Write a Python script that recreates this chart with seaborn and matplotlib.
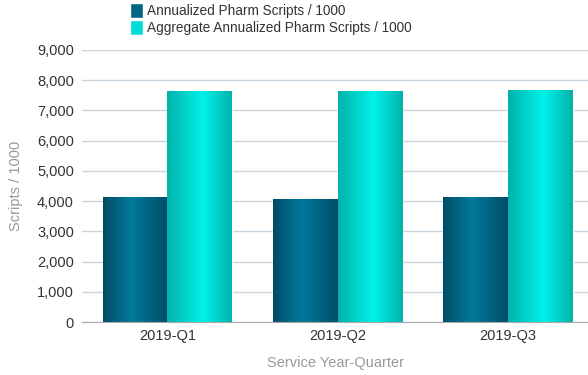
import numpy as np
import pandas as pd
import matplotlib
matplotlib.use("Agg")
import matplotlib.pyplot as plt
from matplotlib.colors import LinearSegmentedColormap
from matplotlib.patches import Patch
import seaborn as sns

quarters = ["2019-Q1", "2019-Q2", "2019-Q3"]
annualized = [4135, 4070, 4135]
aggregate = [7645, 7645, 7680]
series_names = ["Annualized Pharm Scripts / 1000",
                "Aggregate Annualized Pharm Scripts / 1000"]

df = pd.DataFrame({
    "quarter": quarters * 2,
    "value": annualized + aggregate,
    "series": [series_names[0]] * 3 + [series_names[1]] * 3,
})

sns.set_style("white")
plt.rcParams["font.family"] = ["Liberation Sans", "DejaVu Sans"]

fig = plt.figure(figsize=(5.88, 3.75), dpi=100)
ax = fig.add_axes([0.14, 0.141, 0.86, 0.726])

solid = ["#00627f", "#00d6d0"]
sns.barplot(data=df, x="quarter", y="value", hue="series", order=quarters,
            hue_order=series_names, palette=solid, width=0.76, gap=0,
            saturation=1, ax=ax, legend=False)

# gradient shading on the bars (cylinder look)
grad_dark = LinearSegmentedColormap.from_list(
    "d", [(0, "#004c66"), (0.45, "#007a9c"), (1, "#004c66")])
grad_light = LinearSegmentedColormap.from_list(
    "l", [(0, "#00b3ab"), (0.55, "#00f2ea"), (1, "#00b3ab")])
xs = np.linspace(0, 1, 128).reshape(1, -1)
for i, p in enumerate(ax.patches):
    cmap = grad_dark if i < len(quarters) else grad_light
    x0, y0 = p.get_x(), p.get_y()
    w, h = p.get_width(), p.get_height()
    im = ax.imshow(xs, cmap=cmap, aspect="auto",
                   extent=[x0, x0 + w, y0, y0 + h], zorder=p.get_zorder() + 0.1)
    im.set_clip_path(p)

ax.set_xlim(-0.5, 2.47)
ax.set_ylim(0, 9000)
ax.set_yticks(range(0, 9001, 1000))
ax.yaxis.set_major_formatter(matplotlib.ticker.FuncFormatter(lambda v, _: f"{int(v):,}"))
ax.grid(axis="y", color="#c9d5de", linewidth=1)
ax.set_axisbelow(True)
for s in ["top", "right", "left"]:
    ax.spines[s].set_visible(False)
ax.spines["bottom"].set_color("#aaaaaa")
ax.tick_params(axis="y", length=0, pad=6, labelsize=10.5, labelcolor="#333333")
ax.tick_params(axis="x", length=0, pad=5, labelsize=10.5, labelcolor="#333333")
ax.set_xlabel("Service Year-Quarter", color="#999999", fontsize=10.5, labelpad=9)
ax.set_ylabel("Scripts / 1000", color="#999999", fontsize=10.5, labelpad=10)

handles = [Patch(facecolor=c, label=n) for c, n in zip(["#006582", "#00dcd6"], series_names)]
fig.legend(handles=handles, loc="upper left", bbox_to_anchor=(0.205, 1.018),
           frameon=False, fontsize=9.8, labelcolor="#333333",
           handlelength=0.95, handleheight=1.3, handletextpad=0.3,
           labelspacing=0.15, borderpad=0.2)

fig.savefig("out.png", dpi=100)
